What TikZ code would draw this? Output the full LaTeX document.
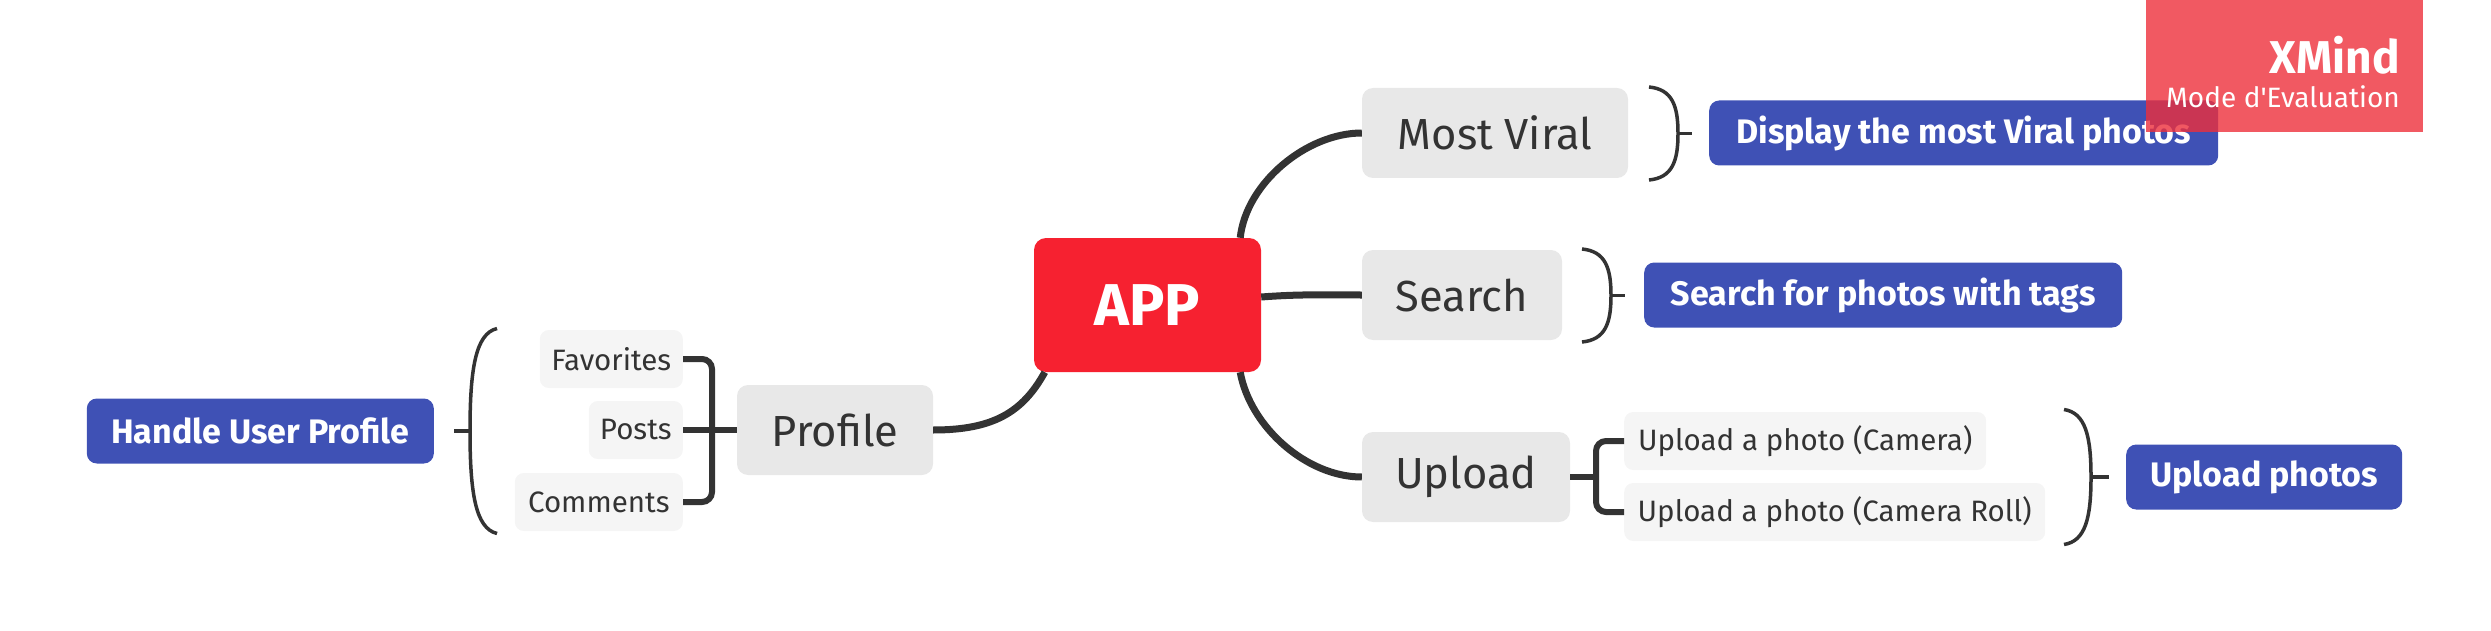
\documentclass[tikz,border=0pt]{standalone}
\usepackage{fontspec}
\setmainfont{Fira Sans}

\definecolor{appred}{RGB}{246,33,48}
\definecolor{topicgray}{RGB}{232,232,232}
\definecolor{subgray}{RGB}{245,245,245}
\definecolor{noteblue}{RGB}{63,81,181}
\definecolor{linegray}{RGB}{51,51,51}
\definecolor{markred}{RGB}{237,47,59}

\begin{document}
\begin{tikzpicture}[x=1pt, y=-1pt,
    root/.style={fill=appred, rounded corners=12pt, text=white, inner sep=0pt,
        font=\fontsize{59}{63}\selectfont\bfseries, minimum width=227pt, minimum height=134pt},
    topic/.style={fill=topicgray, rounded corners=11pt, text=linegray, inner sep=0pt,
        font=\fontsize{43.5}{47}\selectfont, minimum height=90pt},
    subtopic/.style={fill=subgray, rounded corners=9pt, text=linegray, inner sep=0pt,
        font=\fontsize{29.5}{32}\selectfont, minimum height=58pt},
    summary/.style={fill=noteblue, rounded corners=10pt, text=white, inner sep=0pt,
        font=\fontsize{34}{37}\selectfont\bfseries, minimum height=65pt},
    branch/.style={line width=7pt, linegray},
    brace/.style={line width=6pt, linegray, rounded corners=10pt},
    bracket/.style={line width=3.5pt, linegray}]

    \useasboundingbox (0,0) rectangle (2491,631);

    \node[root] (app) at (1147.5,305) {APP};

    \node[topic, minimum width=266pt] (viral) at (1495,133) {Most Viral};
    \node[topic, minimum width=200pt] (search) at (1462,295) {Search};
    \node[topic, minimum width=208pt] (upload) at (1466,477) {Upload};
    \node[topic, minimum width=196pt] (profile) at (835,430) {Profile};

    \node[subtopic, minimum width=143pt, anchor=east] (fav) at (683,359) {Favorites};
    \node[subtopic, minimum width=94pt, anchor=east] (posts) at (683,430) {Posts};
    \node[subtopic, minimum width=168pt, anchor=east] (comments) at (683,502) {Comments};
    \node[subtopic, minimum width=362pt, anchor=west] (camera) at (1624,441) {Upload a photo (Camera)};
    \node[subtopic, minimum width=421pt, anchor=west] (roll) at (1624,512) {Upload a photo (Camera Roll)};

    \node[summary, minimum width=509pt, anchor=west] (viralnote) at (1709,133) {Display the most Viral photos};
    \node[summary, minimum width=478pt, anchor=west] (searchnote) at (1644,295) {Search for photos with tags};
    \node[summary, minimum width=276pt, anchor=west] (uploadnote) at (2126,477) {Upload photos};
    \node[summary, minimum width=347pt, anchor=east] (profilenote) at (434,431) {Handle User Profile};

    \draw[branch] ([xshift=-21pt]app.north east)
        .. controls +(6,-55) and +(-55,0) .. (viral.west);
    \draw[branch] ([yshift=8pt]app.east)
        .. controls +(40,-3) and +(-40,0) .. (search.west);
    \draw[branch] ([xshift=-21pt]app.south east)
        .. controls +(10,55) and +(-55,0) .. (upload.west);
    \draw[branch] ([xshift=11pt]app.south west)
        .. controls +(-22,40) and +(60,0) .. (profile.east);

    \coordinate (ujoint) at (1596,477);
    \draw[brace] (upload.east) -- (ujoint);
    \draw[brace] (camera.west) -| (ujoint) |- (roll.west);

    \coordinate (pjoint) at (712,430);
    \draw[brace] (profile.west) -- (pjoint);
    \draw[brace] (posts.east) -- (pjoint);
    \draw[brace] (fav.east) -| (pjoint) |- (comments.east);

    \foreach \bx/\by/\bh/\bd/\bt in {1649/133.5/46.5/29/14, 1582/295.5/46.5/29/14,
                                     2064/477/67.5/27/18, 497/431/102.5/-27/-16}
    {
        \begin{scope}[shift={(\bx,\by)}]
            \draw[bracket] (0,-\bh)
                .. controls (0.8*\bd,-0.95*\bh) and (\bd,-0.6*\bh) .. (\bd,0)
                .. controls (\bd,0.6*\bh) and (0.8*\bd,0.95*\bh) .. (0,\bh);
            \draw[bracket] (\bd,0) -- (\bd+\bt,0);
        \end{scope}
    }

    \fill[markred, fill opacity=0.8] (2146,0) rectangle (2423,132);
    \node[anchor=east, text=white, inner sep=0pt, font=\fontsize{46}{50}\selectfont\bfseries]
        (xmind) at (2400,55) {XMind};
    \node[anchor=east, text=white, inner sep=0pt, font=\fontsize{28}{31}\selectfont]
        (evalmode) at (2400,97) {Mode d\textquotesingle Evaluation};
\end{tikzpicture}
\end{document}
